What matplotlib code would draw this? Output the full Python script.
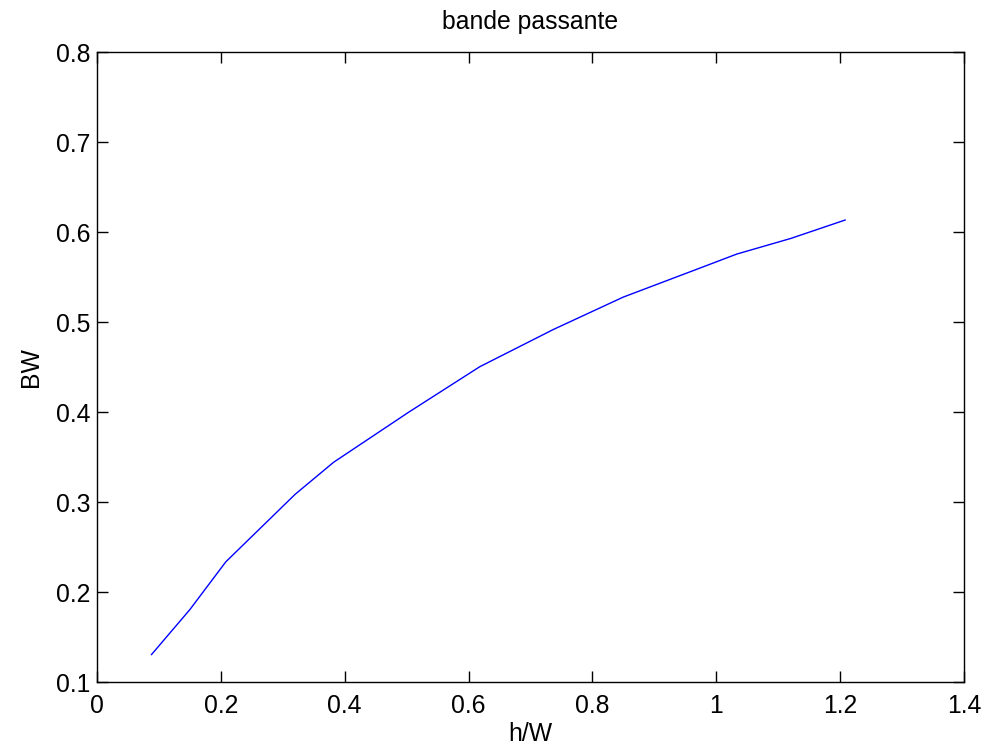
import matplotlib
matplotlib.use("Agg")
import matplotlib.pyplot as plt

plt.rcParams['font.family'] = ['Liberation Sans', 'DejaVu Sans']

h_over_W = [0.088, 0.150, 0.208, 0.320, 0.382, 0.503, 0.618, 0.737, 0.850, 0.973, 1.033, 1.120, 1.208]
BW = [0.131, 0.181, 0.234, 0.309, 0.3445, 0.400, 0.4506, 0.492, 0.528, 0.560, 0.5757, 0.593, 0.6135]

xticks = [0, 0.2, 0.4, 0.6, 0.8, 1.0, 1.2, 1.4]
xticklabels = ['0', '0.2', '0.4', '0.6', '0.8', '1', '1.2', '1.4']
yticks = [0.1, 0.2, 0.3, 0.4, 0.5, 0.6, 0.7, 0.8]
yticklabels = ['0.1', '0.2', '0.3', '0.4', '0.5', '0.6', '0.7', '0.8']

FS = 17.8
fig = plt.figure(figsize=(9.86, 7.44), dpi=100)
ax = fig.add_axes([0.0984, 0.0827, 0.8793, 0.8473])
ax.plot(h_over_W, BW, color='#0000ff', lw=1.0)
ax.set_xlim(0, 1.4)
ax.set_ylim(0.1, 0.8)
ax.set_xticks(xticks)
ax.set_xticklabels(xticklabels)
ax.set_yticks(yticks)
ax.set_yticklabels(yticklabels)
ax.tick_params(direction='in', length=8, width=1, top=True, right=True, labelsize=FS)
ax.tick_params(axis='x', pad=8)
ax.tick_params(axis='y', pad=5)
for s in ax.spines.values():
    s.set_linewidth(1.0)
ax.set_title('bande passante', fontsize=FS, pad=16.5)
ax.set_xlabel('h/W', fontsize=FS, labelpad=3)
ax.set_ylabel('BW', fontsize=FS, labelpad=9)
fig.savefig('out.png', dpi=100)
